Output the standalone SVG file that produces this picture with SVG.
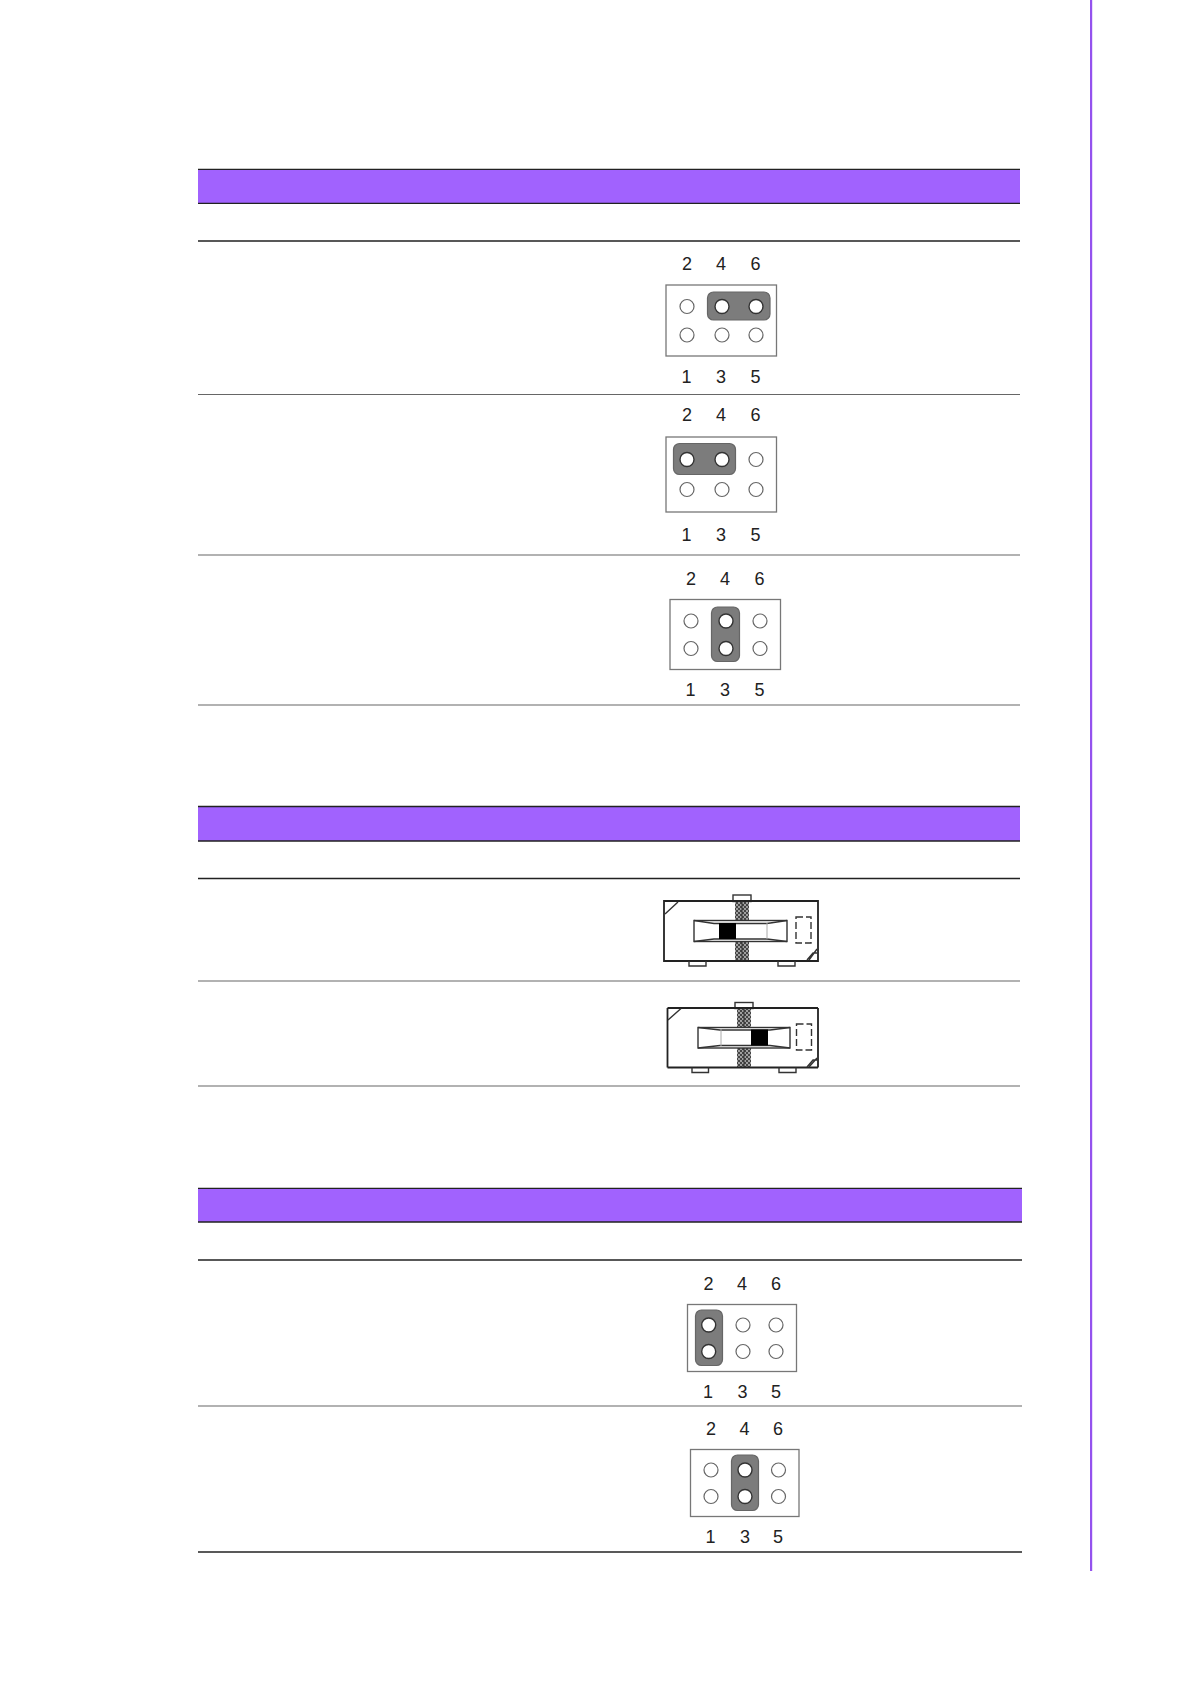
<svg xmlns="http://www.w3.org/2000/svg" width="1191" height="1684" viewBox="0 0 1191 1684">
<style>
.hdr{fill:#a162fe}
.k{stroke:#222;stroke-width:1.3;fill:none}
.g{stroke:#666;stroke-width:1.2;fill:none}
.box{fill:#fff;stroke:#777;stroke-width:1.3}
.h{fill:#fff;stroke:#666;stroke-width:1.2}
.cap{fill:#7c7c7c;stroke:#666;stroke-width:1.2}
.on{fill:#fff;stroke:#333;stroke-width:1.4}
.n{font:18px "Liberation Sans",Arial,sans-serif;fill:#222;text-anchor:middle}
.sw{fill:none;stroke:#333;stroke-width:1.4}
.swb{fill:none;stroke:#222;stroke-width:1.8}
</style>
<defs>
<pattern id="dots" width="4" height="4" patternUnits="userSpaceOnUse"><rect width="4" height="4" fill="#444"/><circle cx="1" cy="1" r="0.9" fill="#ccc"/><circle cx="3" cy="3" r="0.9" fill="#ccc"/></pattern>
<circle id="hole" r="7" class="h"/>
<circle id="pin" r="7" class="on"/>
</defs>
<rect id="page-rule" x="1090" y="0" width="2.200" height="1571" fill="#9452ee"/>
<g id="table-1">
<rect class="hdr" x="198" y="169" width="822" height="34"/>
<path class="k" d="M198 169.300H1020M198 203.300H1020M198 241H1020"/>
<path class="g" d="M198 394.500H1020M198 555H1020M198 705H1020"/>
</g>
<g id="table-2">
<rect class="hdr" x="198" y="806" width="822" height="35"/>
<path class="k" d="M198 806.500H1020M198 841H1020M198 878.500H1020"/>
<path class="g" d="M198 981H1020M198 1086H1020"/>
</g>
<g id="table-3">
<rect class="hdr" x="198" y="1188" width="824" height="34"/>
<path class="k" d="M198 1188.300H1022M198 1222H1022M198 1260H1022"/>
<path class="g" d="M198 1406H1022"/>
<path class="k" d="M198 1552H1022"/>
</g>
<g id="jumper-1">
<rect class="box" x="666" y="285" width="110.500" height="71"/>
<rect class="cap" x="707.500" y="292" width="62.500" height="28" rx="6"/>
<use href="#hole" x="687" y="306.500"/><use href="#pin" x="722" y="306.500"/><use href="#pin" x="756" y="306.500"/>
<use href="#hole" x="687" y="335"/><use href="#hole" x="722" y="335"/><use href="#hole" x="756" y="335"/>
<text class="n" x="687" y="270">2</text><text class="n" x="721" y="270">4</text><text class="n" x="755.500" y="270">6</text>
<text class="n" x="686.500" y="383">1</text><text class="n" x="721" y="383">3</text><text class="n" x="755.500" y="383">5</text>
</g>
<g id="jumper-2">
<rect class="box" x="666" y="437" width="110.500" height="75"/>
<rect class="cap" x="673.500" y="443.500" width="62" height="31" rx="6"/>
<use href="#pin" x="687" y="459.500"/><use href="#pin" x="722" y="459.500"/><use href="#hole" x="756" y="459.500"/>
<use href="#hole" x="687" y="489.500"/><use href="#hole" x="722" y="489.500"/><use href="#hole" x="756" y="489.500"/>
<text class="n" x="687" y="420.500">2</text><text class="n" x="721" y="420.500">4</text><text class="n" x="755.500" y="420.500">6</text>
<text class="n" x="686.500" y="540.500">1</text><text class="n" x="721" y="540.500">3</text><text class="n" x="755.500" y="540.500">5</text>
</g>
<g id="jumper-3">
<rect class="box" x="670" y="599.500" width="110.500" height="70"/>
<rect class="cap" x="711.500" y="607" width="28" height="54.500" rx="6"/>
<use href="#hole" x="691" y="621"/><use href="#pin" x="726" y="621"/><use href="#hole" x="760" y="621"/>
<use href="#hole" x="691" y="648.500"/><use href="#pin" x="726" y="648.500"/><use href="#hole" x="760" y="648.500"/>
<text class="n" x="691" y="585">2</text><text class="n" x="725" y="585">4</text><text class="n" x="759.500" y="585">6</text>
<text class="n" x="690.500" y="696">1</text><text class="n" x="725" y="696">3</text><text class="n" x="759.500" y="696">5</text>
</g>
<g id="switch-1">
<rect x="733" y="895" width="18" height="6.500" class="sw"/>
<rect x="735" y="901" width="14" height="60" fill="url(#dots)"/>
<path class="swb" d="M664 901H818V961H664Z"/>
<path class="sw" d="M665 914L678 902M809 960L817 949M807 960L813 953H817"/>
<path d="M742 901V961" stroke="#333" stroke-width="1"/>
<rect x="694" y="920.500" width="93" height="21" fill="#fff" stroke="#333" stroke-width="1.400"/>
<path class="sw" d="M694 920.500L714 923.500H767L787 920.500M694 941.500L714 939H767L787 941.500"/>
<rect x="719" y="923" width="17" height="16" fill="#000"/>
<path d="M767 923V939" stroke="#aaa" stroke-width="1"/>
<rect x="796" y="917" width="15" height="26" class="sw" stroke-width="1.800" stroke-dasharray="7 3"/>
<path class="sw" d="M689 961V966H706V961M778 961V966H795V961"/>
</g>
<g id="switch-2">
<rect x="735" y="1002.500" width="18" height="6" class="sw"/>
<rect x="737" y="1008" width="14" height="59" fill="url(#dots)"/>
<path class="swb" d="M667.500 1008H818M667.500 1067.500H818M667.500 1008V1067.500M818 1008V1067.500"/>
<path class="sw" d="M668 1020L681 1008.500M809 1067L817 1058M807 1067L813 1060H817"/>
<path d="M744 1008V1067" stroke="#333" stroke-width="1"/>
<rect x="698" y="1027.500" width="92" height="20.500" fill="#fff" stroke="#333" stroke-width="1.400"/>
<path class="sw" d="M698 1027.500L720 1030H770L790 1027.500M698 1048L720 1045.500H770L790 1048"/>
<rect x="751" y="1029.500" width="17" height="16" fill="#000"/>
<path d="M721 1029V1046" stroke="#aaa" stroke-width="1"/>
<rect x="796.500" y="1024" width="15" height="26" class="sw" stroke-width="1.800" stroke-dasharray="7 3"/>
<path class="sw" d="M692 1067.500V1072.500H708.500V1067.500M779 1067.500V1072.500H796V1067.500"/>
</g>
<g id="jumper-4">
<rect class="box" x="687.500" y="1304.500" width="109" height="67"/>
<rect class="cap" x="695.500" y="1310" width="27" height="55.500" rx="6"/>
<use href="#pin" x="708.700" y="1325"/><use href="#hole" x="743" y="1325"/><use href="#hole" x="776" y="1325"/>
<use href="#pin" x="708.700" y="1351.500"/><use href="#hole" x="743" y="1351.500"/><use href="#hole" x="776" y="1351.500"/>
<text class="n" x="708.500" y="1290">2</text><text class="n" x="742" y="1290">4</text><text class="n" x="776" y="1290">6</text>
<text class="n" x="708" y="1398">1</text><text class="n" x="742.500" y="1398">3</text><text class="n" x="776" y="1398">5</text>
</g>
<g id="jumper-5">
<rect class="box" x="690.500" y="1449.500" width="108.500" height="67"/>
<rect class="cap" x="731.500" y="1455" width="27" height="55.500" rx="6"/>
<use href="#hole" x="711" y="1470"/><use href="#pin" x="745" y="1470"/><use href="#hole" x="778.500" y="1470"/>
<use href="#hole" x="711" y="1496.500"/><use href="#pin" x="745" y="1496.500"/><use href="#hole" x="778.500" y="1496.500"/>
<text class="n" x="711" y="1435">2</text><text class="n" x="744.500" y="1435">4</text><text class="n" x="778" y="1435">6</text>
<text class="n" x="710.500" y="1543">1</text><text class="n" x="745" y="1543">3</text><text class="n" x="778" y="1543">5</text>
</g>
</svg>
